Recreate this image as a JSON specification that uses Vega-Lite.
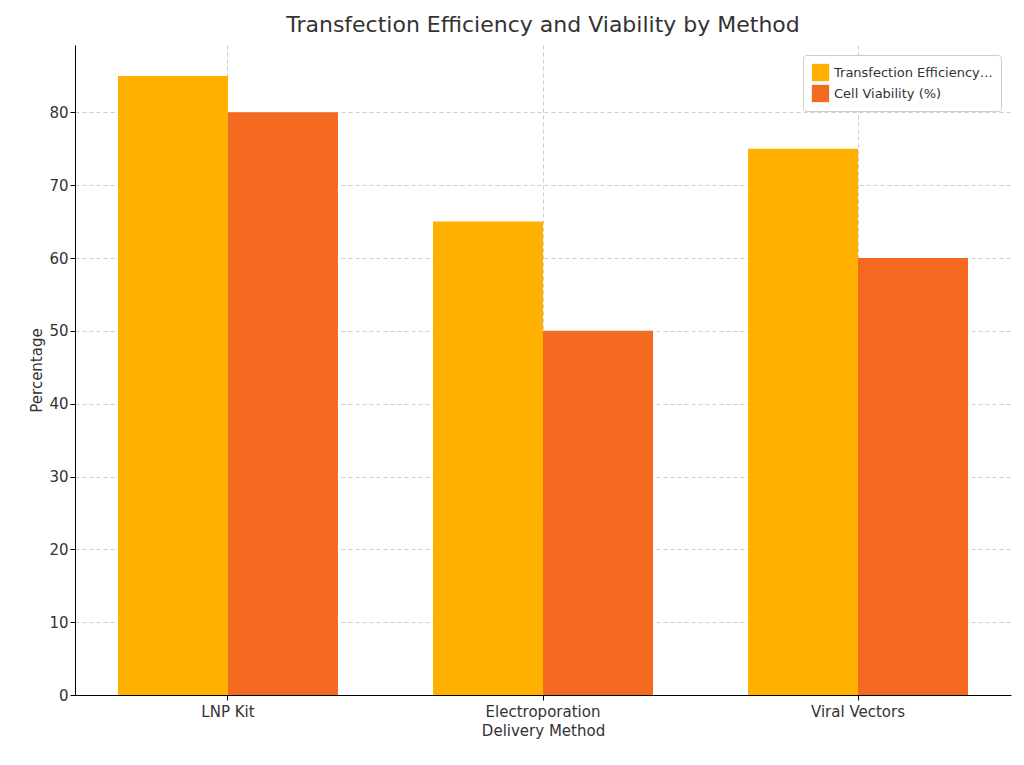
{
"$schema":"https://vega.github.io/schema/vega-lite/v6.json",
"width":936,"height":650,
"autosize":{"type":"none"},
"padding":{"left":75,"top":45,"right":13,"bottom":70},
"background":"white",
"config":{"font":"DejaVu Sans","view":{"stroke":null}},
"title":{"text":"Transfection Efficiency and Viability by Method","fontSize":22,"fontWeight":"normal","color":"#333333","offset":8},
"data":{"values":[
{"method":"LNP Kit","metric":"Transfection Efficiency (%)","value":85},
{"method":"LNP Kit","metric":"Cell Viability (%)","value":80},
{"method":"Electroporation","metric":"Transfection Efficiency (%)","value":65},
{"method":"Electroporation","metric":"Cell Viability (%)","value":50},
{"method":"Viral Vectors","metric":"Transfection Efficiency (%)","value":75},
{"method":"Viral Vectors","metric":"Cell Viability (%)","value":60}
]},
"mark":{"type":"bar"},
"encoding":{
"x":{"field":"method","type":"nominal","sort":["LNP Kit","Electroporation","Viral Vectors"],
 "scale":{"paddingInner":0.3016,"paddingOuter":0.1365},
 "axis":{"title":"Delivery Method","labelAngle":0,"labelFontSize":15,"titleFontSize":15,"titleFontWeight":"normal","labelColor":"#333","titleColor":"#333","domainColor":"#000","tickColor":"#000","grid":true,"gridDash":[4,3],"gridColor":"#cccccc","bandPosition":0.5,"labelPadding":4}},
"xOffset":{"field":"metric","type":"nominal","sort":["Transfection Efficiency (%)","Cell Viability (%)"],"scale":{"paddingInner":0,"paddingOuter":0}},
"y":{"field":"value","type":"quantitative","scale":{"domain":[0,89.25],"nice":false},
 "axis":{"title":"Percentage","values":[0,10,20,30,40,50,60,70,80],"labelFontSize":15,"titleFontSize":15,"titleFontWeight":"normal","labelColor":"#333","titleColor":"#333","domainColor":"#000","tickColor":"#000","gridDash":[4,3],"gridColor":"#cccccc"}},
"color":{"field":"metric","type":"nominal","sort":["Transfection Efficiency (%)","Cell Viability (%)"],
 "scale":{"range":["#FFB000","#F46A21"]},
 "legend":{"title":null,"orient":"top-right","labelFontSize":13,"labelColor":"#333","symbolType":"square","symbolSize":300,"strokeColor":"#cccccc","fillColor":"white","padding":8,"cornerRadius":3,"offset":10}}
}
}
